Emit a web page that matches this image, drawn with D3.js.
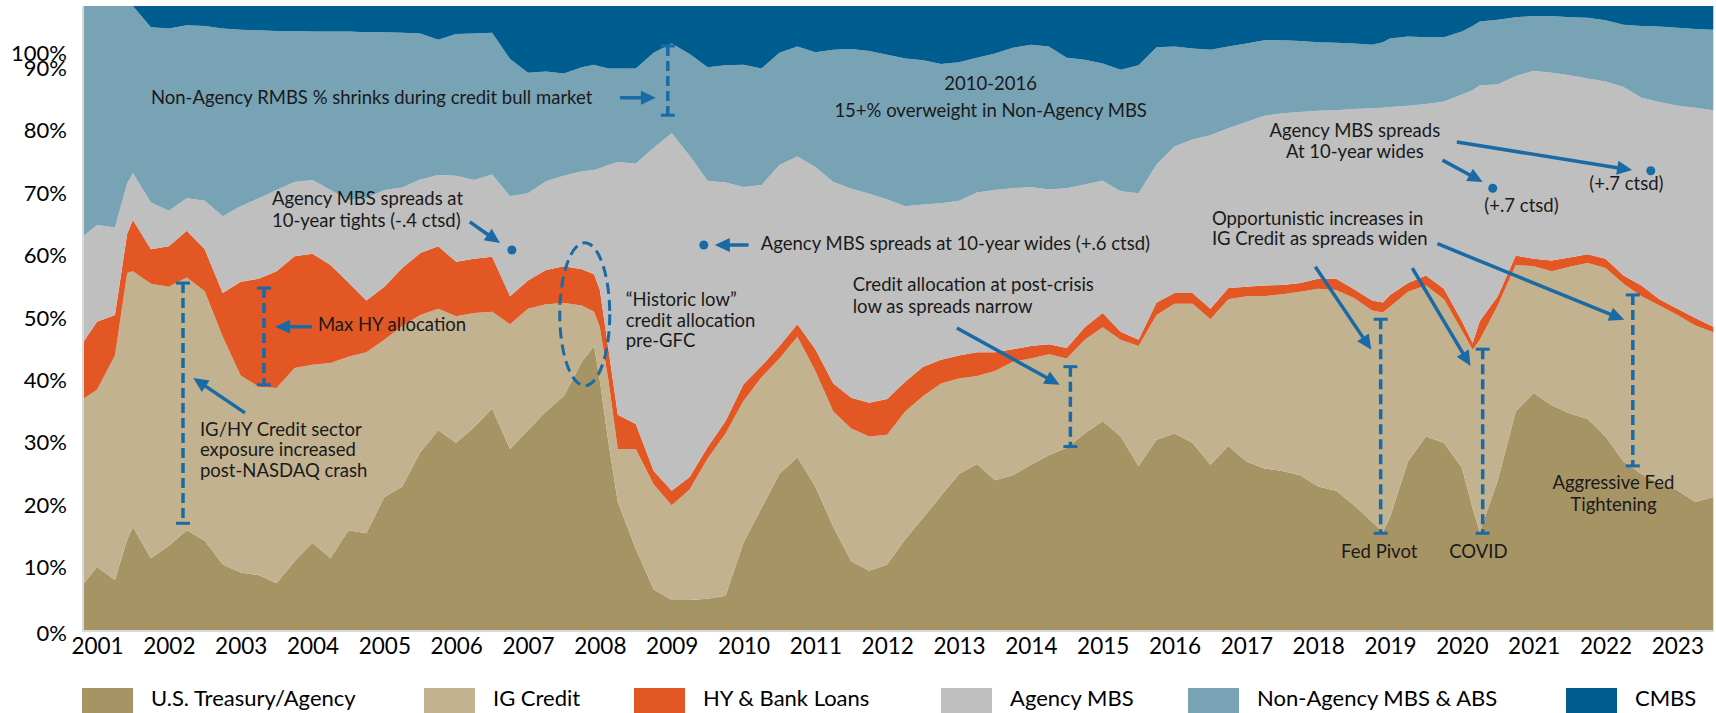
<!DOCTYPE html>
<html><head><meta charset="utf-8">
<script src="https://cdn.jsdelivr.net/npm/d3@7"></script>
<style>
html,body{margin:0;padding:0;background:#fff;}
svg{display:block;}
</style></head>
<body>
<svg id="chart" width="1716" height="713"></svg>
<script>
// ---------- DATA (share of portfolio, %) ----------
const dates = [2000.8,2001.0,2001.25,2001.42,2001.5,2001.75,2002.0,2002.25,2002.5,2002.75,
2003.0,2003.25,2003.5,2003.75,2004.0,2004.25,2004.5,2004.75,2005.0,2005.25,
2005.5,2005.75,2006.0,2006.25,2006.5,2006.75,2007.0,2007.25,2007.5,2007.75,
2007.92,2008.0,2008.12,2008.25,2008.5,2008.75,2009.0,2009.25,2009.5,2009.75,
2010.0,2010.25,2010.5,2010.75,2011.0,2011.25,2011.5,2011.75,2012.0,2012.25,
2012.5,2012.75,2013.0,2013.25,2013.5,2013.75,2014.0,2014.25,2014.5,2014.75,
2015.0,2015.25,2015.5,2015.75,2016.0,2016.25,2016.5,2016.75,2017.0,2017.25,
2017.5,2017.75,2018.0,2018.25,2018.5,2018.75,2018.9,2019.0,2019.25,2019.5,
2019.75,2020.0,2020.15,2020.25,2020.5,2020.75,2021.0,2021.25,2021.5,2021.75,
2022.0,2022.25,2022.5,2022.75,2023.0,2023.25,2023.5];

const treasury = [7.2,10.1,8.0,14.5,16.5,11.5,13.5,16.0,14.3,10.5,
9.2,8.8,7.5,11.0,14.0,11.5,16.0,15.5,21.3,23.0,
28.5,32.0,30.0,32.5,35.5,29.0,32.0,35.0,37.5,43.0,
45.5,40.0,30.0,20.5,13.0,6.5,4.8,4.8,5.0,5.5,
14.0,19.5,25.0,27.7,23.0,16.5,11.0,9.5,10.5,14.5,
18.0,21.5,25.0,26.6,24.0,24.8,26.5,28.0,29.2,31.5,
33.5,31.0,26.3,30.5,31.5,30.0,26.5,29.5,27.0,25.9,
25.5,24.8,23.0,22.3,20.0,17.3,15.7,18.1,27.0,31.0,
30.0,26.0,19.5,15.7,24.0,35.0,38.0,36.0,34.7,33.8,
31.0,27.0,25.0,23.5,22.4,20.5,21.3];

const igCredit = [29.8,28.4,36.0,42.7,41.0,44.0,41.5,40.5,40.0,36.5,
31.6,30.2,31.3,31.0,28.5,31.3,27.8,29.0,25.2,25.7,
22.0,19.5,20.3,18.3,15.5,20.0,19.5,17.2,14.9,9.0,
5.5,8.5,10.0,8.5,16.0,16.8,15.2,17.7,22.5,26.0,
22.7,21.0,18.5,19.3,18.5,18.5,21.3,21.5,20.8,20.5,
19.5,18.0,15.3,14.1,17.5,18.2,17.0,16.2,14.3,15.0,
15.0,15.5,19.2,20.0,20.8,22.3,23.3,23.5,26.5,27.6,
28.3,29.4,31.7,32.2,33.2,33.9,35.2,33.7,27.2,24.2,
23.0,22.0,25.4,30.8,28.0,23.5,20.3,21.5,23.5,25.0,
27.0,28.5,28.5,28.5,28.1,28.3,26.4];

const hyBankLoans = [9.0,10.9,6.5,6.3,8.2,5.5,6.5,7.5,6.7,7.0,
15.0,17.3,18.7,17.9,17.8,15.7,11.9,8.3,8.5,9.3,
9.9,10.0,8.7,8.7,8.8,4.5,4.5,5.5,5.9,5.8,
6.0,6.0,5.0,5.5,4.0,2.2,2.3,2.0,1.8,2.0,
2.7,1.8,2.0,2.0,3.5,4.5,4.9,5.4,5.7,4.8,
4.7,3.8,3.7,3.8,3.0,2.0,2.0,1.6,1.7,2.0,
2.3,1.3,1.0,2.0,1.7,1.7,1.7,1.8,1.5,1.7,
1.5,1.4,1.6,1.8,1.4,1.6,1.6,1.9,1.4,1.6,
1.7,1.5,1.1,3.0,1.5,1.5,1.2,1.7,1.5,1.4,
1.5,1.3,1.7,1.0,1.0,1.2,0.9];

const agencyMbs = [17.0,15.5,14.0,8.1,7.5,7.5,5.7,5.2,7.8,12.3,
12.1,12.9,13.0,11.9,11.8,12.0,13.2,16.4,15.5,12.9,
11.8,11.4,13.8,12.6,13.2,16.0,14.0,14.2,14.5,15.7,
16.7,19.5,29.5,40.5,41.7,51.8,57.3,51.5,42.7,38.2,
31.6,29.0,29.0,26.9,29.2,32.3,33.5,33.5,32.0,28.1,
26.0,25.1,24.8,25.6,26.0,25.8,25.5,24.8,25.6,22.9,
21.2,22.5,23.5,22.1,23.5,24.6,27.8,25.6,26.4,27.2,
27.5,27.4,26.9,27.0,28.9,30.8,31.2,30.1,28.4,27.5,
30.0,36.3,40.5,37.8,33.9,28.8,30.1,30.1,29.2,28.2,
28.4,30.2,30.1,31.6,32.5,33.7,34.7];

const nonAgencyMbsAbs = [37.0,35.1,35.5,28.4,26.8,28.1,29.2,27.7,28.0,30.1,
28.3,26.9,25.5,24.2,23.8,25.4,27.0,26.6,25.3,24.8,
23.4,21.7,22.7,23.5,22.7,22.0,19.3,17.6,16.4,16.7,
16.9,16.3,15.5,15.0,15.3,15.2,14.4,16.3,18.2,18.8,
19.6,18.7,18.0,17.6,18.4,21.2,22.4,22.9,23.2,23.7,
23.1,22.3,22.2,21.6,21.9,22.5,22.8,22.9,20.9,20.0,
18.8,19.5,20.5,18.8,16.0,14.6,13.7,13.1,12.6,12.1,
11.7,11.4,11.0,10.8,10.5,10.2,10.5,11.0,11.1,10.7,
10.3,10.1,10.3,10.2,10.4,9.4,8.8,9.1,9.3,9.7,
9.8,10.0,11.5,12.1,12.5,12.6,12.9];

const cmbs = [0,0,0,0,0,3.4,3.6,3.1,3.2,3.6,
3.8,3.9,4.0,4.0,4.1,4.1,4.1,4.2,4.2,4.3,
4.4,5.4,4.5,4.4,4.3,8.5,10.7,10.5,10.8,9.8,
9.4,9.7,10.0,10.0,10.0,7.5,6.0,7.7,9.8,9.5,
9.4,10.0,7.5,6.5,7.4,7.0,6.9,7.2,7.8,8.4,
8.7,9.3,9.0,8.3,7.6,6.7,6.2,6.5,8.3,8.6,
9.2,10.2,9.5,6.6,6.5,6.8,7.0,6.5,6.0,5.5,
5.5,5.6,5.8,5.9,6.0,6.2,5.8,5.2,4.9,5.0,
5.0,4.1,3.2,2.5,2.2,1.8,1.6,1.6,1.8,1.9,
2.3,3.0,3.2,3.3,3.5,3.7,3.8];

const seriesNames = ["U.S. Treasury/Agency","IG Credit","HY & Bank Loans","Agency MBS","Non-Agency MBS & ABS","CMBS"];
const seriesValues = [treasury, igCredit, hyBankLoans, agencyMbs, nonAgencyMbsAbs, cmbs];
const seriesColors = ["#a69464","#c2b28f","#e25724","#bfbfbf","#77a3b5","#005d8f"];

const yearTicks = d3.range(2001, 2024);
const pctTicks = [0,10,20,30,40,50,60,70,80,90,100];

// Annotations (year, %)
const dashedBars = [
  {t:2002.197, top:55.6, bottom:17.1},
  {t:2003.324, top:54.8, bottom:39.3},
  {t:2008.946, top:93.6, bottom:82.5},
  {t:2014.55,  top:42.2, bottom:29.4},
  {t:2018.87,  top:49.8, bottom:15.5},
  {t:2020.29,  top:45.0, bottom:15.5},
  {t:2022.38,  top:53.7, bottom:26.3}
];
const arrowNotes = [
  {from:[2003.06,34.8], to:[2002.34,40.4]},
  {from:[2003.99,48.6], to:[2003.48,48.6]},
  {from:[2006.19,65.4], to:[2006.61,62.0]},
  {from:[2008.28,85.3], to:[2008.78,85.3]},
  {from:[2010.07,61.7], to:[2009.60,61.7]},
  {from:[2012.97,48.4], to:[2014.40,39.3]},
  {from:[2019.73,75.3], to:[2020.29,71.8]},
  {from:[2019.93,78.2], to:[2022.37,73.7]},
  {from:[2017.96,58.2], to:[2018.74,44.9]},
  {from:[2019.31,58.0], to:[2020.12,42.3]},
  {from:[2019.66,61.9], to:[2022.26,49.7]}
];
const dotNotes = [[2006.775,60.9],[2009.447,61.7],[2020.43,70.8],[2022.63,73.6]];
const ellipseNote = {t:2007.79, v:50.6, dt:0.348, dv:11.46};
const textNotes = [
  {t:2001.75, v:85.3, anchor:"start", lh:21, lines:["Non-Agency RMBS % shrinks during credit bull market"]},
  {t:2013.44, v:87.5, anchor:"middle", lh:26.5, lines:["2010-2016","15+% overweight in Non-Agency MBS"]},
  {t:2003.435, v:69.1, anchor:"start", lh:22, lines:["Agency MBS spreads at","10-year tights (-.4 ctsd)"]},
  {t:2010.24, v:62.0, anchor:"start", lh:21, lines:["Agency MBS spreads at 10-year wides (+.6 ctsd)"]},
  {t:2004.075, v:48.9, anchor:"start", lh:21, lines:["Max HY allocation"]},
  {t:2002.433, v:32.2, anchor:"start", lh:20.5, lines:["IG/HY Credit sector","exposure increased","post-NASDAQ crash"]},
  {t:2008.36, v:52.9, anchor:"start", lh:20.5, lines:["\u201CHistoric low\u201D","credit allocation","pre-GFC"]},
  {t:2011.52, v:55.3, anchor:"start", lh:22, lines:["Credit allocation at post-crisis","low as spreads narrow"]},
  {t:2018.51, v:80.0, anchor:"middle", lh:21, lines:["Agency MBS spreads","At 10-year wides"]},
  {t:2020.83, v:68.1, anchor:"middle", lh:21, lines:["(+.7 ctsd)"]},
  {t:2022.29, v:71.6, anchor:"middle", lh:21, lines:["(+.7 ctsd)"]},
  {t:2016.52, v:66.0, anchor:"start", lh:20, lines:["Opportunistic increases in","IG Credit as spreads widen"]},
  {t:2018.85, v:12.5, anchor:"middle", lh:21, lines:["Fed Pivot"]},
  {t:2020.23, v:12.5, anchor:"middle", lh:21, lines:["COVID"]},
  {t:2022.11, v:23.7, anchor:"middle", lh:22, lines:["Aggressive Fed","Tightening"]}
];

// ---------- CHART ----------
const FONT = "Lato, 'Open Sans', sans-serif";
const BLUE = "#1a6aa6";
const svg = d3.select("#chart");
const x = d3.scaleLinear().domain([2000.805, 2023.51]).range([83, 1714]);
const y = d3.scaleLinear().domain([0, 100]).range([630, 6]);

const rows = dates.map((t, i) => {
  const r = {t};
  seriesNames.forEach((n, k) => r[n] = seriesValues[k][i]);
  return r;
});
const stacked = d3.stack().keys(seriesNames)(rows);

svg.append("defs").append("clipPath").attr("id","plotclip")
  .append("rect").attr("x",83).attr("y",6).attr("width",1631).attr("height",624);

const area = d3.area().x(d => x(d.data.t)).y0(d => y(d[0])).y1(d => y(d[1]));
svg.append("g").attr("clip-path","url(#plotclip)")
  .selectAll("path").data(stacked).join("path")
  .attr("d", area).attr("fill", (d,i) => seriesColors[i]);

// plot frame (left & bottom)
svg.append("line").attr("x1",83).attr("x2",83).attr("y1",6).attr("y2",631)
  .attr("stroke","#d9d9d9").attr("stroke-width",2);
svg.append("line").attr("x1",82).attr("x2",1714).attr("y1",631).attr("y2",631)
  .attr("stroke","#d9d9d9").attr("stroke-width",2);

// axes
const xAxis = svg.append("g").attr("transform","translate(0,630)")
  .call(d3.axisBottom(x).tickValues(yearTicks).tickFormat(d3.format("d")).tickSize(0).tickPadding(8));
xAxis.select(".domain").remove();
xAxis.selectAll("text").attr("font-family",FONT).attr("font-size","22.5px").attr("fill","#000");

const yAxis = svg.append("g").attr("transform","translate(83,0)")
  .call(d3.axisLeft(y).tickValues(pctTicks).tickFormat(d => d + "%").tickSize(0).tickPadding(16));
yAxis.select(".domain").remove();
yAxis.selectAll("text").attr("font-family",FONT).attr("font-size","22px").attr("fill","#000");
yAxis.selectAll(".tick").filter(d => d === 100).select("text").attr("y", 47);
yAxis.selectAll(".tick").filter(d => d === 0).select("text").attr("y", 3);

// annotations
const ann = svg.append("g");
dashedBars.forEach(b => {
  const bx = x(b.t), y1 = y(b.top), y2 = y(b.bottom);
  ann.append("line").attr("x1",bx).attr("x2",bx).attr("y1",y1).attr("y2",y2)
    .attr("stroke",BLUE).attr("stroke-width",3.5).attr("stroke-dasharray","10,5");
  [y1,y2].forEach(yy => ann.append("line").attr("x1",bx-7).attr("x2",bx+7)
    .attr("y1",yy).attr("y2",yy).attr("stroke",BLUE).attr("stroke-width",3));
});
ann.append("ellipse")
  .attr("cx", x(ellipseNote.t)).attr("cy", y(ellipseNote.v))
  .attr("rx", x(ellipseNote.t + ellipseNote.dt) - x(ellipseNote.t))
  .attr("ry", y(ellipseNote.v - ellipseNote.dv) - y(ellipseNote.v))
  .attr("fill","none").attr("stroke",BLUE).attr("stroke-width",3).attr("stroke-dasharray","11,6");

arrowNotes.forEach(a => {
  const x1 = x(a.from[0]), y1 = y(a.from[1]), x2 = x(a.to[0]), y2 = y(a.to[1]);
  const L = Math.hypot(x2-x1, y2-y1), ux = (x2-x1)/L, uy = (y2-y1)/L;
  const hl = 15, hw = 7;
  ann.append("line").attr("x1",x1).attr("y1",y1).attr("x2",x2-ux*(hl-3)).attr("y2",y2-uy*(hl-3))
    .attr("stroke",BLUE).attr("stroke-width",3.5);
  const bx = x2-ux*hl, by = y2-uy*hl;
  ann.append("path").attr("d",`M${x2},${y2}L${bx-uy*hw},${by+ux*hw}L${bx+uy*hw},${by-ux*hw}Z`)
    .attr("fill",BLUE);
});
dotNotes.forEach(d => ann.append("circle").attr("cx",x(d[0])).attr("cy",y(d[1])).attr("r",4.5).attr("fill",BLUE));

textNotes.forEach(n => {
  const tx = ann.append("text").attr("font-family",FONT).attr("font-size","18.5px").attr("fill","#1a1a1a")
    .attr("text-anchor", n.anchor);
  n.lines.forEach((ln, i) => tx.append("tspan").attr("x", x(n.t)).attr("y", y(n.v) + i*n.lh).attr("dy","0.35em").text(ln));
});

// legend
const legendX = [82, 424, 634, 941, 1188, 1566];
const lg = svg.append("g");
seriesNames.forEach((n, i) => {
  lg.append("rect").attr("x",legendX[i]).attr("y",688).attr("width",51).attr("height",26).attr("fill",seriesColors[i]);
  lg.append("text").attr("x",legendX[i]+69).attr("y",706).attr("font-family",FONT).attr("font-size","22px")
    .attr("fill","#000").text(n);
});
</script>
</body></html>
